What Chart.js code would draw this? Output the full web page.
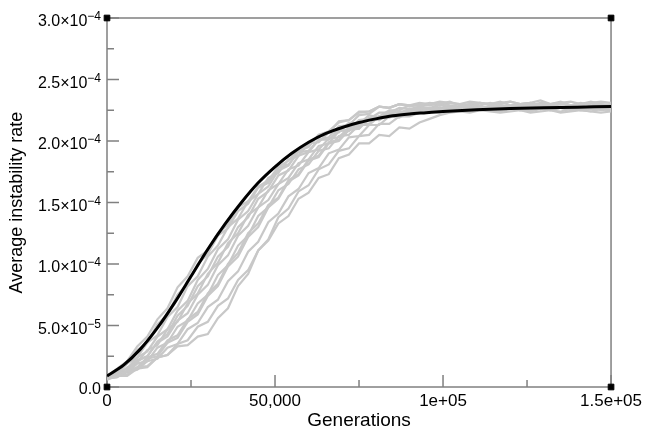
<!DOCTYPE html>
<html>
<head>
<meta charset="utf-8">
<script src="https://cdn.jsdelivr.net/npm/chart.js@4.4.1/dist/chart.umd.min.js"></script>
<style>
  html, body { margin: 0; padding: 0; background: #fff; }
  #wrap { width: 646px; height: 432px; }
</style>
</head>
<body>
<div id="wrap"><canvas id="instability"></canvas></div>
<script>
// generations sampled for the simulation runs (grey)
var gens = [0,3000,6000,9000,12000,15000,18000,21000,24000,27000,30000,33000,36000,39000,42000,45000,48000,51000,54000,57000,60000,
  63000,66000,69000,72000,75000,78000,81000,84000,87000,90000,93000,96000,99000,102000,105000,108000,111000,114000,117000,120000,
  123000,126000,129000,132000,135000,138000,141000,144000,147000,150000];

// instability rate of each run, in units of 1e-6
var runs = [
  [9,15,21,33,41,55,64,81,90,105,111,125,132,146,151,163,168,179,184,193,196,205,208,215,217,223,224,228,227,230,229,229,231,230,232,229,230,231,229,230,232,230,229,231,230,232,229,230,231,229,230],
  [8,11,19,24,36,42,57,65,82,90,106,115,130,137,151,157,170,174,185,188,198,199,207,207,215,214,221,219,224,223,226,226,227,226,228,227,226,228,227,226,228,227,229,227,226,228,227,228,226,227,228],
  [8,12,15,24,29,41,47,62,70,87,96,112,120,136,143,157,163,176,180,192,195,205,207,216,217,224,224,228,227,230,228,230,229,231,229,228,230,229,231,229,228,230,231,229,228,230,229,231,229,230,229],
  [7,9,16,20,30,34,47,53,68,76,92,101,117,125,140,146,160,165,177,180,191,193,202,203,211,211,218,217,222,221,224,224,225,224,226,225,224,226,225,224,226,225,224,226,225,224,226,225,224,226,225],
  [8,11,13,21,25,36,41,54,60,75,83,99,107,123,131,146,152,165,170,182,185,196,198,208,209,217,218,223,223,227,226,228,227,229,228,227,229,228,227,229,228,227,229,228,229,227,228,229,227,228,229],
  [7,10,12,19,21,32,36,49,54,68,75,91,99,115,123,139,146,160,165,177,181,192,194,204,205,213,213,220,220,224,223,225,226,225,227,226,225,227,226,225,227,226,225,227,226,227,225,226,227,225,226],
  [7,8,13,15,23,25,36,40,53,59,74,82,98,106,122,130,146,153,167,172,184,187,198,200,209,210,219,220,225,225,229,229,230,229,231,230,229,231,230,232,229,230,231,229,230,231,229,230,232,230,229],
  [7,9,12,14,21,23,32,35,47,52,65,71,86,94,110,118,134,141,155,161,174,178,190,193,203,204,213,213,220,219,224,225,226,227,226,228,227,226,228,227,226,228,227,226,228,227,226,228,227,226,227],
  [7,9,10,16,17,24,26,35,38,49,53,66,72,87,95,111,120,138,145,159,164,177,181,192,194,204,205,214,214,220,220,223,225,226,227,226,228,227,226,228,227,229,227,226,228,227,229,227,226,228,227],
  [6,9,9,15,16,24,26,33,34,41,43,56,64,82,92,111,119,133,139,153,158,170,173,186,189,198,198,205,204,211,210,215,218,221,223,224,225,226,225,227,226,225,227,226,225,227,226,225,227,226,225],
  [8,14,19,30,36,51,59,75,84,100,108,123,129,143,149,162,166,178,181,191,192,201,201,209,208,215,214,220,219,222,221,223,224,223,225,224,223,225,224,223,224,225,223,224,225,223,224,225,224,223,224],
  [7,11,13,22,25,37,43,58,66,82,90,106,114,130,138,153,159,172,176,188,191,201,203,212,213,221,222,228,227,230,229,231,230,232,231,230,232,231,230,231,232,230,231,233,230,231,232,230,231,232,231],
  [7,8,13,16,24,27,38,42,55,61,76,84,100,109,125,133,148,154,168,173,185,188,199,201,210,210,218,217,223,222,225,225,226,227,226,228,227,226,228,227,226,227,228,226,227,228,227,226,228,227,226]
];

// average curve (black), units of 1e-6
var meanGens = [0,5000,10000,15000,20000,25000,30000,35000,40000,45000,50000,55000,60000,65000,70000,75000,80000,85000,90000,95000,100000,
  110000,120000,130000,140000,150000];
var meanVals = [9,18,31,48,68,90,112,132,150,166,179,190,199,206,211,215,218,220.5,222,223,224,225.5,226.5,227,227.5,228];

var xTickLabels = ['0', '50,000', '1e+05', '1.5e+05'];
// y tick labels: mantissa part and exponent of ten
var yTickMant = ['0.0', '5.0×10', '1.0×10', '1.5×10', '2.0×10', '2.5×10', '3.0×10'];
var yTickExp = ['', '−5', '−4', '−4', '−4', '−4', '−4'];

var font = '"Liberation Sans", Arial, Helvetica, sans-serif';

function pts(xs, ys) {
  var out = [];
  for (var i = 0; i < xs.length; i++) out.push({x: xs[i], y: ys[i] * 1e-6});
  return out;
}

var datasets = [];
datasets.push({
  label: 'corners',
  data: [{x: 0, y: 0}, {x: 0, y: 3e-4}, {x: 150000, y: 3e-4}, {x: 150000, y: 0}],
  showLine: false,
  pointStyle: 'rect',
  pointRadius: 4,
  pointBackgroundColor: '#000',
  pointBorderColor: '#000',
  pointBorderWidth: 1,
  clip: false
});
datasets.push({
  label: 'mean',
  data: pts(meanGens, meanVals),
  borderColor: '#000',
  borderWidth: 3,
  pointRadius: 0,
  cubicInterpolationMode: 'monotone'
});
for (var r = 0; r < runs.length; r++) {
  datasets.push({
    label: 'run ' + (r + 1),
    data: pts(gens, runs[r]),
    borderColor: '#c8c8c8',
    borderWidth: 2.2,
    pointRadius: 0,
    tension: 0
  });
}

// frame, inward major/minor ticks, and y labels with raised exponents
var frameTicks = {
  id: 'frameTicks',
  beforeDatasetsDraw: function(chart) {
    var ctx = chart.ctx, a = chart.chartArea;
    var xs = chart.scales.x, ys = chart.scales.y;
    ctx.save();
    ctx.strokeStyle = '#808080';
    ctx.lineWidth = 1.5;
    ctx.strokeRect(a.left, a.top, a.right - a.left, a.bottom - a.top);
    ctx.beginPath();
    var xt = xs.ticks, yt = ys.ticks, i, p;
    for (i = 0; i < xt.length; i++) {
      p = xs.getPixelForValue(xt[i].value);
      ctx.moveTo(p, a.bottom); ctx.lineTo(p, a.bottom - 12);
      if (i < xt.length - 1) {
        p = xs.getPixelForValue((xt[i].value + xt[i + 1].value) / 2);
        ctx.moveTo(p, a.bottom); ctx.lineTo(p, a.bottom - 7);
      }
    }
    for (i = 0; i < yt.length; i++) {
      p = ys.getPixelForValue(yt[i].value);
      ctx.moveTo(a.left, p); ctx.lineTo(a.left + 12, p);
      if (i < yt.length - 1) {
        p = ys.getPixelForValue((yt[i].value + yt[i + 1].value) / 2);
        ctx.moveTo(a.left, p); ctx.lineTo(a.left + 7, p);
      }
    }
    ctx.stroke();

    ctx.fillStyle = '#000';
    ctx.textAlign = 'right';
    ctx.textBaseline = 'alphabetic';
    var right = a.left - 6;
    for (i = 0; i < yt.length; i++) {
      p = ys.getPixelForValue(yt[i].value);
      var ex = yTickExp[i];
      if (!ex) {
        ctx.font = '16px ' + font;
        ctx.fillText(yTickMant[i], right, p + 7);
        continue;
      }
      ctx.font = '12px ' + font;
      var ew = ctx.measureText(ex).width;
      ctx.fillText(ex, right, p + 2);
      ctx.font = '16px ' + font;
      ctx.fillText(yTickMant[i], right - ew, p + 8);
    }
    ctx.restore();
  }
};

new Chart(document.getElementById('instability'), {
  type: 'line',
  data: {datasets: datasets},
  plugins: [frameTicks],
  options: {
    responsive: true,
    maintainAspectRatio: false,
    animation: false,
    layout: {padding: {top: 18, right: 33, left: 6, bottom: 0}},
    plugins: {legend: {display: false}, tooltip: {enabled: false}},
    scales: {
      x: {
        type: 'linear',
        min: 0,
        max: 150000,
        grid: {display: false, drawTicks: false},
        border: {display: false},
        ticks: {
          stepSize: 50000,
          padding: 4,
          color: '#000',
          font: {family: font, size: 17},
          maxRotation: 0,
          callback: function(v, i) { return xTickLabels[i]; }
        },
        title: {display: true, text: 'Generations', color: '#000', font: {family: font, size: 19}, padding: 0},
        afterFit: function(s) { s.height = 45; }
      },
      y: {
        min: 0,
        max: 3e-4,
        grid: {display: false, drawTicks: false},
        border: {display: false},
        ticks: {display: false, stepSize: 5e-5},
        title: {display: true, text: 'Average instability rate', color: '#000', font: {family: font, size: 18}, padding: 0},
        afterFit: function(s) { s.width = 101; }
      }
    }
  }
});
</script>
</body>
</html>
